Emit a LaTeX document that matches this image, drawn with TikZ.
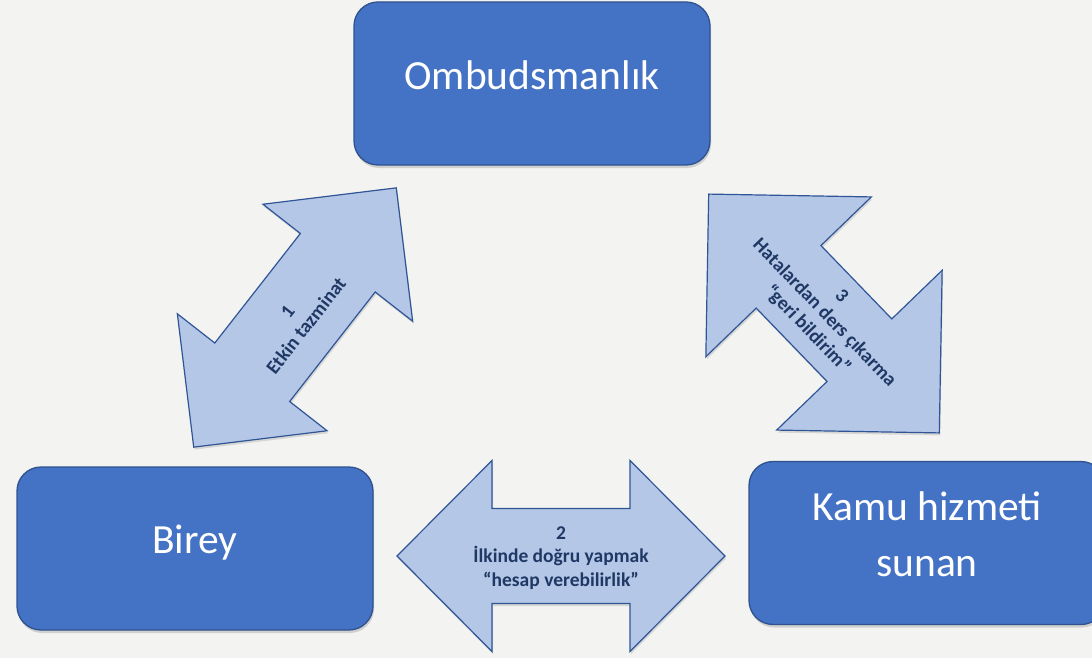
\documentclass[tikz,border=0pt]{standalone}
\usepackage{fontspec}
\setmainfont{Carlito}
\usetikzlibrary{shadows,calc}
\definecolor{bg}{HTML}{F3F3F1}
\definecolor{boxfill}{HTML}{4472C4}
\definecolor{boxline}{HTML}{2F528F}
\definecolor{arrfill}{HTML}{B4C7E7}
\definecolor{arrline}{HTML}{2F5597}
\definecolor{arrtext}{HTML}{1F3864}
\tikzset{
  boxnode/.style={draw=boxline, line width=1.3pt, fill=boxfill, rounded corners=24pt,
    minimum width=356pt, minimum height=163pt, inner sep=0pt,
    drop shadow={shadow xshift=1pt, shadow yshift=-3pt, opacity=0.3}},
  boxtext/.style={text=white, font=\fontsize{41.5}{56}\selectfont, align=center, inner sep=0pt},
  arrowshape/.style={draw=arrline, line width=1.2pt, fill=arrfill, line join=miter,
    drop shadow={shadow xshift=1pt, shadow yshift=-2.5pt, opacity=0.25}},
  arrowtext/.style={text=arrtext, font=\fontsize{19.5}{23.5}\selectfont\bfseries, align=center, inner sep=0pt},
  pics/dblarrow/.style n args={4}{code={
    \path[arrowshape] (-#1,0) -- (-#1+#2,#3) -- (-#1+#2,#4) -- (#1-#2,#4) -- (#1-#2,#3)
      -- (#1,0) -- (#1-#2,-#3) -- (#1-#2,-#4) -- (-#1+#2,-#4) -- (-#1+#2,-#3) -- cycle;
  }}
}
\begin{document}
\begin{tikzpicture}[x=1pt,y=-1pt]
\useasboundingbox (0,0) rectangle (1092,658);
\clip (0,0) rectangle (1092,658);
\fill[bg] (0,0) rectangle (1092,658);

% boxes
\node[boxnode] (omb) at (532,83.5) {};
\node[boxtext, anchor=base] (ombt) at (532,90) {Ombudsmanlık};
\node[boxnode] (birey) at (195,548.5) {};
\node[boxtext, anchor=base] (bireyt) at (195,553) {Birey};
\node[boxnode] (kamu) at (927,543) {};
\node[boxtext] (kamut) at (927,534) {Kamu hizmeti\\sunan};

% arrows
\coordinate (a1) at (295,317.5);
\coordinate (a2) at (561,556);
\coordinate (a3) at (824,313.5);
\pic[rotate=52] at (a1) {dblarrow={164.5}{95}{95}{47.5}};
\pic at (a2) {dblarrow={164}{95}{95.5}{47.5}};
\pic[rotate=-46] at (a3) {dblarrow={166}{115}{115}{45}};

\node[arrowtext, rotate=52] (t1) at ($(a1)+(2,1)$) {1\\Etkin tazminat};
\node[arrowtext] (t2) at ($(a2)+(0,2)$) {2\\İlkinde doğru yapmak\\“hesap verebilirlik”};
\node[arrowtext, rotate=-46] (t3) at (a3) {3\\Hatalardan ders çıkarma\\“geri bildirim”};
\end{tikzpicture}
\end{document}
